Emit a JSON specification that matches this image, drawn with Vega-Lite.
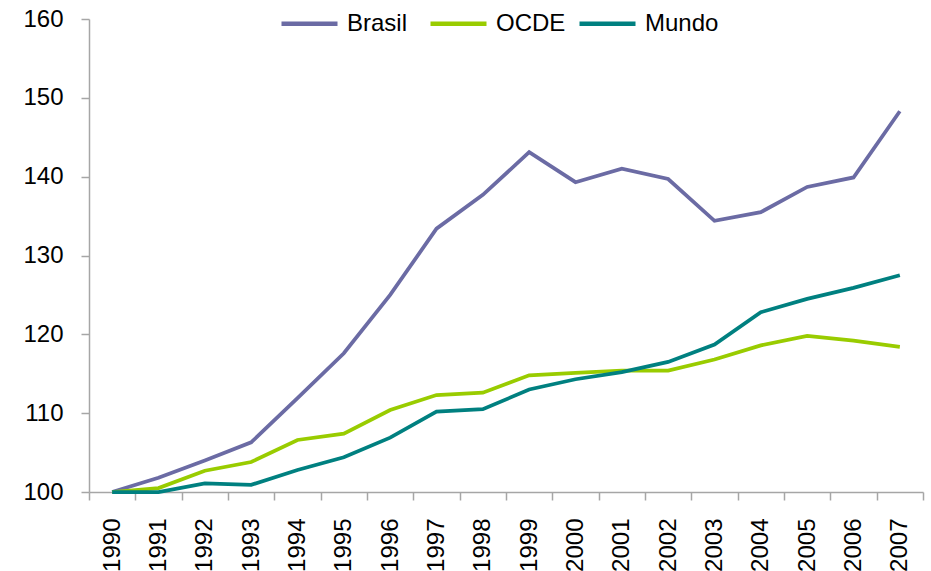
{
  "$schema": "https://vega.github.io/schema/vega-lite/v6.json",
  "autosize": "none",
  "width": 834,
  "height": 473,
  "padding": {"left": 89, "top": 19, "right": 8, "bottom": 79},
  "background": "white",
  "config": {
    "view": {"stroke": null},
    "font": "Liberation Sans"
  },
  "data": {
    "values": [
      {"year": "1990", "serie": "Brasil", "valor": 100},
      {"year": "1991", "serie": "Brasil", "valor": 101.8},
      {"year": "1992", "serie": "Brasil", "valor": 104.0},
      {"year": "1993", "serie": "Brasil", "valor": 106.3},
      {"year": "1994", "serie": "Brasil", "valor": 111.9},
      {"year": "1995", "serie": "Brasil", "valor": 117.6},
      {"year": "1996", "serie": "Brasil", "valor": 125.0},
      {"year": "1997", "serie": "Brasil", "valor": 133.4},
      {"year": "1998", "serie": "Brasil", "valor": 137.7},
      {"year": "1999", "serie": "Brasil", "valor": 143.1},
      {"year": "2000", "serie": "Brasil", "valor": 139.3},
      {"year": "2001", "serie": "Brasil", "valor": 141.0},
      {"year": "2002", "serie": "Brasil", "valor": 139.7},
      {"year": "2003", "serie": "Brasil", "valor": 134.4},
      {"year": "2004", "serie": "Brasil", "valor": 135.5},
      {"year": "2005", "serie": "Brasil", "valor": 138.7},
      {"year": "2006", "serie": "Brasil", "valor": 139.9},
      {"year": "2007", "serie": "Brasil", "valor": 148.3},
      {"year": "1990", "serie": "OCDE", "valor": 100},
      {"year": "1991", "serie": "OCDE", "valor": 100.5},
      {"year": "1992", "serie": "OCDE", "valor": 102.7},
      {"year": "1993", "serie": "OCDE", "valor": 103.8},
      {"year": "1994", "serie": "OCDE", "valor": 106.6},
      {"year": "1995", "serie": "OCDE", "valor": 107.4},
      {"year": "1996", "serie": "OCDE", "valor": 110.4},
      {"year": "1997", "serie": "OCDE", "valor": 112.3},
      {"year": "1998", "serie": "OCDE", "valor": 112.6},
      {"year": "1999", "serie": "OCDE", "valor": 114.8},
      {"year": "2000", "serie": "OCDE", "valor": 115.1},
      {"year": "2001", "serie": "OCDE", "valor": 115.4},
      {"year": "2002", "serie": "OCDE", "valor": 115.4},
      {"year": "2003", "serie": "OCDE", "valor": 116.8},
      {"year": "2004", "serie": "OCDE", "valor": 118.6},
      {"year": "2005", "serie": "OCDE", "valor": 119.8},
      {"year": "2006", "serie": "OCDE", "valor": 119.2},
      {"year": "2007", "serie": "OCDE", "valor": 118.4},
      {"year": "1990", "serie": "Mundo", "valor": 100},
      {"year": "1991", "serie": "Mundo", "valor": 100.0},
      {"year": "1992", "serie": "Mundo", "valor": 101.1},
      {"year": "1993", "serie": "Mundo", "valor": 100.9},
      {"year": "1994", "serie": "Mundo", "valor": 102.8},
      {"year": "1995", "serie": "Mundo", "valor": 104.4},
      {"year": "1996", "serie": "Mundo", "valor": 106.9},
      {"year": "1997", "serie": "Mundo", "valor": 110.2},
      {"year": "1998", "serie": "Mundo", "valor": 110.5},
      {"year": "1999", "serie": "Mundo", "valor": 113.0},
      {"year": "2000", "serie": "Mundo", "valor": 114.3},
      {"year": "2001", "serie": "Mundo", "valor": 115.2},
      {"year": "2002", "serie": "Mundo", "valor": 116.5},
      {"year": "2003", "serie": "Mundo", "valor": 118.7},
      {"year": "2004", "serie": "Mundo", "valor": 122.8},
      {"year": "2005", "serie": "Mundo", "valor": 124.5},
      {"year": "2006", "serie": "Mundo", "valor": 125.9},
      {"year": "2007", "serie": "Mundo", "valor": 127.5}
    ]
  },
  "mark": {"type": "line", "strokeWidth": 3.75, "strokeJoin": "miter"},
  "encoding": {
    "x": {
      "field": "year",
      "type": "ordinal",
      "bandPosition": 0.5,
      "scale": {"type": "band", "paddingInner": 0, "paddingOuter": 0},
      "axis": {
        "title": null,
        "labelAngle": -90,
        "labelFontSize": 24,
        "labelColor": "#000000",
        "labelPadding": 18,
        "tickBand": "extent",
        "tickSize": 8,
        "tickColor": "#A6A6A6",
        "domainColor": "#A6A6A6",
        "tickWidth": 1.5,
        "domainWidth": 1.5,
        "grid": false
      }
    },
    "y": {
      "field": "valor",
      "type": "quantitative",
      "scale": {"domain": [100, 160], "nice": false, "zero": false},
      "axis": {
        "title": null,
        "values": [100, 110, 120, 130, 140, 150, 160],
        "labelFontSize": 24,
        "labelColor": "#000000",
        "labelPadding": 18,
        "tickSize": 8,
        "tickColor": "#A6A6A6",
        "domainColor": "#A6A6A6",
        "tickWidth": 1.5,
        "domainWidth": 1.5,
        "grid": false
      }
    },
    "color": {
      "field": "serie",
      "type": "nominal",
      "sort": ["Brasil", "OCDE", "Mundo"],
      "scale": {"domain": ["Brasil", "OCDE", "Mundo"], "range": ["#6B6BA4", "#99CC00", "#008080"]},
      "legend": {
        "title": null,
        "orient": "none",
        "direction": "horizontal",
        "legendX": 190,
        "legendY": -26,
        "symbolType": "stroke",
        "symbolSize": 3136,
        "symbolStrokeWidth": 4.5,
        "labelFontSize": 24,
        "labelColor": "#000000",
        "labelOffset": 7,
        "gridAlign": "all",
        "columnPadding": 0
      }
    }
  }
}
